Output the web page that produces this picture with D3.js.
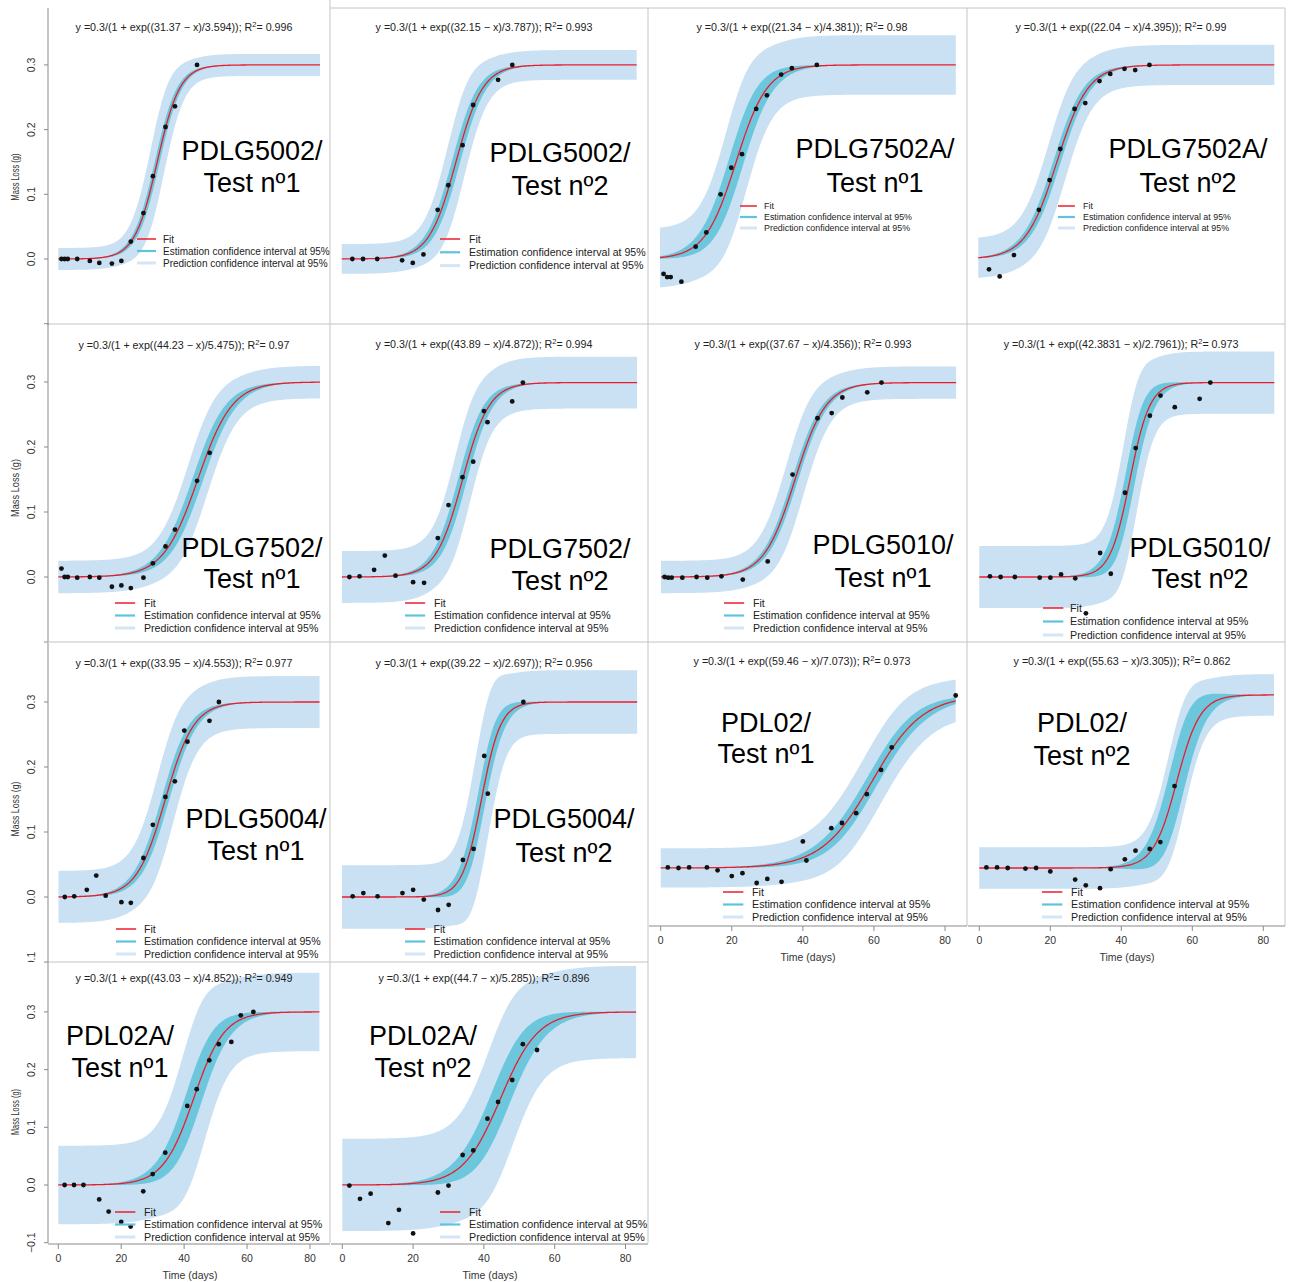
<!DOCTYPE html>
<html><head><meta charset="utf-8">
<script src="https://cdn.jsdelivr.net/npm/d3@7"></script>
<style>body{margin:0;background:#fff}svg{display:block;font-family:"Liberation Sans",Arial,sans-serif}</style>
</head><body><svg id="c" width="1290" height="1282"></svg>
<script>
// ---------------- DATA ----------------
const titles = [
  ["PDLG5002/","Test nº1"],["PDLG5002/","Test nº2"],["PDLG7502A/","Test nº1"],["PDLG7502A/","Test nº2"],
  ["PDLG7502/","Test nº1"],["PDLG7502/","Test nº2"],["PDLG5010/","Test nº1"],["PDLG5010/","Test nº2"],
  ["PDLG5004/","Test nº1"],["PDLG5004/","Test nº2"],["PDL02/","Test nº1"],["PDL02/","Test nº2"],
  ["PDL02A/","Test nº1"],["PDL02A/","Test nº2"]
];
const asym = 0.3;
const xmidText = ["31.37","32.15","21.34","22.04","44.23","43.89","37.67","42.3831","33.95","39.22","59.46","55.63","43.03","44.7"];
const scalText = ["3.594","3.787","4.381","4.395","5.475","4.872","4.356","2.7961","4.553","2.697","7.073","3.305","4.852","5.285"];
const r2Text   = ["0.996","0.993","0.98","0.99","0.97","0.994","0.993","0.973","0.977","0.956","0.973","0.862","0.949","0.896"];
const dayMax   = [83,83,83,83,83,107.5,83,83,83,83,83,83,83,83];
const days = [
  [1,2,3,6,10,13,17,20,23,27,30,34,37,44],
  [3,6,10,17,20,23,27,30,34,37,44,48],
  [1,2,3,6,10,13,17,20,23,27,30,34,37,44],
  [3,6,10,17,20,23,27,30,34,37,41,44,48],
  [1,2,3,6,10,13,17,20,23,27,30,34,37,44,48],
  [2.7,6.4,11.7,15.6,19.5,25.9,29.9,34.9,38.8,43.9,47.8,51.7,53,62,65.9],
  [1,2,3,6,10,13,17,23,30,37,44,48,51,58,62],
  [3,6,10,17,20,23,27,30,34,37,41,44,48,51,55,62,65],
  [2,5,9,12,15,20,23,27,30,34,37,40,41,48,51],
  [3,6,10,17,20,23,27,30,34,37,40,41,51],
  [2,5,8,13,16,20,23,27,30,34,40,41,48,51,55,58,62,65,83],
  [2,5,8,13,16,20,27,30,34,37,41,44,48,51,55],
  [2,5,8,13,16,20,23,27,30,34,41,44,48,51,55,58,62],
  [2,5,8,13,16,20,27,30,34,37,41,44,48,51,55]
];
const massLoss = [
  [0,0,0,0,-0.003,-0.006,-0.007,-0.003,0.027,0.071,0.128,0.204,0.236,0.300],
  [0,0,0,-0.002,-0.006,0.007,0.076,0.114,0.176,0.238,0.277,0.300],
  [-0.023,-0.028,-0.028,-0.035,0.019,0.041,0.100,0.141,0.162,0.232,0.253,0.285,0.295,0.300],
  [-0.016,-0.027,0.006,0.076,0.122,0.170,0.232,0.241,0.275,0.286,0.294,0.292,0.300],
  [0.013,0,0,-0.001,0,-0.001,-0.015,-0.013,-0.017,-0.001,0.021,0.047,0.073,0.148,0.191],
  [0,0.001,0.011,0.033,0.002,-0.008,-0.009,0.060,0.111,0.154,0.178,0.256,0.239,0.271,0.300],
  [0,-0.001,-0.001,-0.001,0,-0.001,0.001,-0.004,0.024,0.158,0.245,0.253,0.277,0.285,0.300],
  [0.001,0,0,-0.001,-0.001,0.004,-0.002,-0.056,0.037,0.005,0.130,0.199,0.249,0.280,0.262,0.275,0.300],
  [0,0.001,0.011,0.033,0.002,-0.008,-0.009,0.060,0.111,0.154,0.178,0.256,0.239,0.271,0.300],
  [0.001,0.006,0.001,0.006,0.011,-0.004,-0.020,-0.012,0.057,0.074,0.217,0.159,0.300],
  [0.001,0,0.001,0.001,-0.004,-0.014,-0.009,-0.026,-0.019,-0.024,0.046,0.013,0.069,0.078,0.095,0.128,0.170,0.209,0.299],
  [0.001,0.001,0,-0.001,0,-0.006,-0.020,-0.030,-0.035,-0.002,0.015,0.030,0.033,0.045,0.142],
  [0,0,0,-0.025,-0.046,-0.064,-0.072,-0.011,0.019,0.056,0.137,0.166,0.216,0.244,0.248,0.294,0.300],
  [-0.001,-0.024,-0.015,-0.066,-0.043,-0.084,-0.013,-0.001,0.052,0.060,0.115,0.144,0.182,0.244,0.234]
];
// confidence-band parameters
const predHalf  = [0.017,0.023,0.046,0.031,0.025,0.040,0.025,0.048,0.040,0.049,0.034,0.036,0.068,0.080];
const estMid    = [0.8,1.2,2.3,1.1,1.8,1.7,0.9,1.6,1.3,1.3,2.0,2.8,3.0,3.3];
const estScale  = [0.2,0.3,0.6,0.3,0.4,0.4,0.25,0.6,0.35,0.6,1.0,0.9,0.8,1.0];
const predFact  = [3.8,2.9,2.2,3.3,2.5,2.6,4.0,2.2,3.2,2.8,2.6,1.5,2.5,2.3];
const xTicks = [0,20,40,60,80];
const yTicks = [-0.1,0,0.1,0.2,0.3];
const legendLabels = ["Fit","Estimation confidence interval at 95%","Prediction confidence interval at 95%"];

// ---------------- LAYOUT ----------------
// px0: pixel of day 0, ppd: px per day, py0: pixel of 0 g, ppu: px per 1 g
const L = [
  {px0:58.3, ppd:3.153, py0:259, ppu:647, eq:[184,27], lab:[252,150,182], leg:[137,163,239,12,10]},
  {px0:341.7,ppd:3.554, py0:259, ppu:647, eq:[484,27], lab:[560,152,185], leg:[440,469,239,13.3,10.6]},
  {px0:660,  ppd:3.564, py0:259, ppu:647, eq:[802,27], lab:[875,148,182], leg:[740,764,206,11,8.9]},
  {px0:978.3,ppd:3.566, py0:259, ppu:647, eq:[1121,27], lab:[1188,148,182], leg:[1058,1083,206,11,8.9]},
  {px0:58.3, ppd:3.153, py0:577, ppu:650, eq:[184,345], lab:[252,547,578], leg:[115,144,603,12.5,10.6]},
  {px0:342,  ppd:2.745, py0:577, ppu:648, eq:[484,344], lab:[560,548,580], leg:[405,434,603,12.5,10.6]},
  {px0:661,  ppd:3.556, py0:577, ppu:648, eq:[803,344], lab:[883,544,577], leg:[724,753,603,12.5,10.6]},
  {px0:979.3,ppd:3.554, py0:577, ppu:648, eq:[1121,344], lab:[1200,547,578], leg:[1043,1070,608,13.5,10.7]},
  {px0:58.5, ppd:3.145, py0:897, ppu:650, eq:[184,663], lab:[256,818,850], leg:[116,144,929,12.5,10.6]},
  {px0:342,  ppd:3.556, py0:897, ppu:650, eq:[484,663], lab:[564,818,852], leg:[405,433.5,929,12.5,10.6]},
  {px0:660.7,ppd:3.554, py0:868, ppu:577, eq:[802,661], lab:[766,722,753], leg:[723,752,892,12.5,10.7]},
  {px0:979.3,ppd:3.55,  py0:868, ppu:577, eq:[1122,661], lab:[1082,722,755], leg:[1042,1071,892,12.5,10.7]},
  {px0:58.3, ppd:3.146, py0:1185,ppu:577, eq:[184,978], lab:[120,1035,1067], leg:[115,144,1212,12.5,10.7]},
  {px0:342.3,ppd:3.54,  py0:1185,ppu:577, eq:[484,978], lab:[423,1035,1067], leg:[440,469,1212,12.5,10.7]}
];
const yAxes = [ // panel index, axis top, axis bottom, label centre y, label length, tick labels shown
  {p:0, top:8,   bot:325, ly:177,  len:47, show:[0,0.1,0.2,0.3]},
  {p:4, top:323, bot:642, ly:488,  len:58, show:[0,0.1,0.2,0.3]},
  {p:8, top:643, bot:962, ly:809,  len:55, show:[-0.1,0,0.1,0.2,0.3]},
  {p:12,top:962, bot:1243,ly:1112, len:46, show:[-0.1,0,0.1,0.2,0.3]}
];
const xAxes = [ // panel index, axis y, x extent, title centre x
  {p:10, y:926,  x1:649, x2:967, tx:808},
  {p:11, y:926,  x1:968, x2:1285, tx:1127},
  {p:12, y:1244, x1:48,  x2:330, tx:190},
  {p:13, y:1244, x1:331, x2:648, tx:490}
];
const boxLines = [
  [330,8,1285,8],[48,324,1285,324],[48,642,1285,642],[48,962,648,962],
  [330,0,330,1243],[648,8,648,1243],[967,8,967,926],[1285,8,1285,926]
];

const COL = {pred:"#c9e1f3", est:"#6cc7dc", fit:"#ec1c2c", pt:"#111", box:"#c4c4c4", axis:"#8a8a8a"};

// ---------------- DRAW ----------------
const svg = d3.select("#c");
svg.append("rect").attr("width",1290).attr("height",1282).attr("fill","#fff");
svg.append("defs").append("clipPath").attr("id","clipRow3").attr("clipPathUnits","userSpaceOnUse")
  .append("rect").attr("x",0).attr("y",0).attr("width",1290).attr("height",962);

boxLines.forEach(b=>svg.append("line").attr("x1",b[0]).attr("y1",b[1]).attr("x2",b[2]).attr("y2",b[3])
  .attr("stroke",COL.box).attr("stroke-width",1));

titles.forEach((t,i)=>{
  const lay = L[i];
  const m = +xmidText[i], s = +scalText[i];
  const x = d3.scaleLinear().domain([0, dayMax[i]]).range([lay.px0, lay.px0 + lay.ppd*dayMax[i]]);
  const y = d3.scaleLinear().domain([0, 0.3]).range([lay.py0, lay.py0 - 0.3*lay.ppu]);
  const fit = d => asym/(1+Math.exp((m-d)/s));
  const grid = d3.range(0, dayMax[i]+0.001, 0.25);
  const band = grid.map(d=>{
    const f = fit(d), u = (m-d)/s, g = f*(1-f/asym)/s;
    const est = g*Math.sqrt(estMid[i]**2 + (u*estScale[i])**2);
    const pred = Math.sqrt(predHalf[i]**2 + (predFact[i]*est)**2);
    return {d,f,est,pred};
  });
  const G = svg.append("g");
  G.append("path").datum(band).attr("fill",COL.pred)
    .attr("d", d3.area().x(b=>x(b.d)).y0(b=>y(b.f-b.pred)).y1(b=>y(b.f+b.pred)));
  G.append("path").datum(band).attr("fill",COL.est)
    .attr("d", d3.area().x(b=>x(b.d)).y0(b=>y(b.f-b.est)).y1(b=>y(b.f+b.est)));
  G.append("path").datum(band).attr("fill","none").attr("stroke",COL.fit).attr("stroke-width",1.3)
    .attr("d", d3.line().x(b=>x(b.d)).y(b=>y(b.f)));
  G.selectAll("circle").data(days[i].map((d,k)=>[d,massLoss[i][k]])).join("circle")
    .attr("cx",p=>x(p[0])).attr("cy",p=>y(p[1])).attr("r",2.4).attr("fill",COL.pt);

  // equation
  const eq = G.append("text").attr("x",lay.eq[0]).attr("y",lay.eq[1]+4).attr("text-anchor","middle")
    .attr("font-size",10.7).attr("fill","#222");
  eq.append("tspan").text("y =0.3/(1 + exp((" + xmidText[i] + " \u2212 x)/" + scalText[i] + ")); R");
  eq.append("tspan").attr("dy",-4).attr("font-size",7.5).text("2");
  eq.append("tspan").attr("dy",4).text("= " + r2Text[i]);

  // big label
  [1,2].forEach(k=>G.append("text").attr("x",lay.lab[0]).attr("y",lay.lab[k]+9.7).attr("text-anchor","middle")
    .attr("font-size",27).attr("fill","#000").text(t[k-1]));

  // legend
  const [lx,tx,ly,gap,fs] = lay.leg;
  const legCols = [COL.fit, "#5fc3dc", "#d4e6f5"], legW=[1.5,2.2,3];
  legendLabels.forEach((lab,k)=>{
    const yy = ly + k*gap;
    G.append("line").attr("x1",lx).attr("x2",lx+fs*1.9).attr("y1",yy).attr("y2",yy)
      .attr("stroke",legCols[k]).attr("stroke-width",legW[k]);
    G.append("text").attr("x",tx).attr("y",yy+fs*0.36).attr("font-size",fs).attr("fill","#222").text(lab);
  });
});

// y axes
yAxes.forEach(a=>{
  const lay = L[a.p];
  const y = d3.scaleLinear().domain([0,0.3]).range([lay.py0, lay.py0-0.3*lay.ppu]);
  const g = svg.append("g");
  g.append("line").attr("x1",48).attr("x2",48).attr("y1",a.top).attr("y2",a.bot).attr("stroke",COL.axis);
  yTicks.forEach(v=>{
    const yy = y(v);
    if (yy < a.top-1 || yy > a.bot+1) return;
    g.append("line").attr("x1",44).attr("x2",48).attr("y1",yy).attr("y2",yy).attr("stroke",COL.axis);
  });
  const tg = g.append("g").attr("clip-path", a.p===8 ? "url(#clipRow3)" : null);
  a.show.forEach(v=>{
    const yy = y(v);
    tg.append("text").attr("transform",`translate(35,${yy}) rotate(-90)`).attr("text-anchor","middle")
      .attr("font-size",10.5).attr("fill","#333")
      .text(d3.format(".1f")(v).replace("-","\u2212"));
  });
  g.append("text").attr("transform",`translate(19,${a.ly}) rotate(-90)`).attr("text-anchor","middle")
    .attr("font-size",11.5).attr("fill","#333").attr("textLength",a.len).attr("lengthAdjust","spacingAndGlyphs")
    .text("Mass Loss (g)");
});

// x axes
xAxes.forEach(a=>{
  const lay = L[a.p];
  const x = d3.scaleLinear().domain([0,83]).range([lay.px0, lay.px0 + lay.ppd*83]);
  const g = svg.append("g");
  g.append("line").attr("x1",a.x1).attr("x2",a.x2).attr("y1",a.y).attr("y2",a.y).attr("stroke",COL.axis);
  xTicks.forEach(v=>{
    g.append("line").attr("x1",x(v)).attr("x2",x(v)).attr("y1",a.y).attr("y2",a.y+5).attr("stroke",COL.axis);
    g.append("text").attr("x",x(v)).attr("y",a.y+18).attr("text-anchor","middle").attr("font-size",10.5)
      .attr("fill","#333").text(v);
  });
  g.append("text").attr("x",a.tx).attr("y",a.y+35).attr("text-anchor","middle").attr("font-size",10.5)
    .attr("fill","#333").text("Time (days)");
});
</script></body></html>
